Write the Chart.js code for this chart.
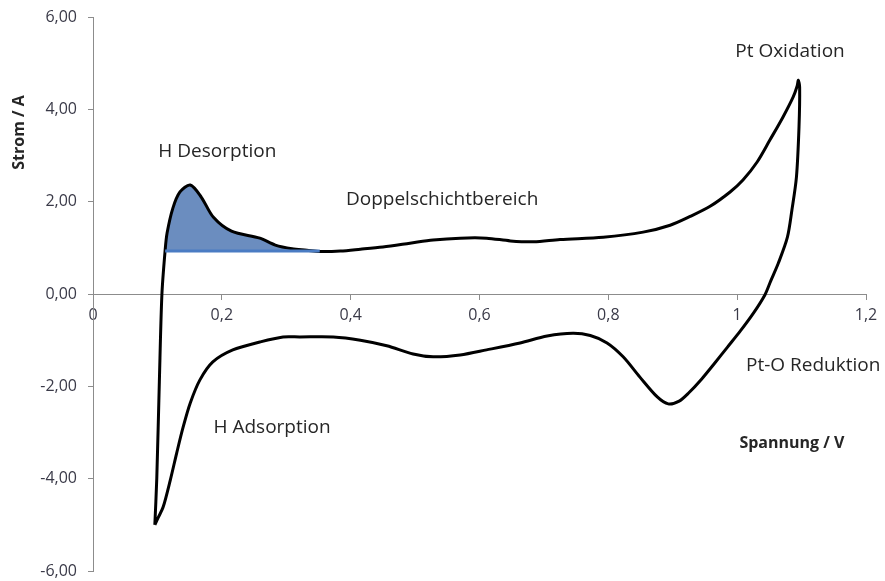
<!DOCTYPE html>
<html>
<head>
<meta charset="utf-8">
<script src="https://cdn.jsdelivr.net/npm/chart.js@4/dist/chart.umd.min.js"></script>
<style>
  html, body { margin: 0; padding: 0; background: #fff; }
  #wrap { width: 885px; height: 581px; }
</style>
</head>
<body>
<div id="wrap"><canvas id="cv" width="885" height="581"></canvas></div>
<script>
// Cyclic voltammogram loop (Spannung / V, Strom / A), in drawing order
const voltage = [
  0.096, 0.099, 0.103, 0.107, 0.112, 0.115, 0.124, 0.135, 0.151, 0.168, 0.187, 0.215,
  0.259, 0.283, 0.309, 0.332, 0.352, 0.384, 0.415, 0.450, 0.492, 0.528, 0.570, 0.611,
  0.648, 0.684, 0.725, 0.792, 0.854, 0.896, 0.927, 0.958, 0.989, 1.009, 1.031, 1.051,
  1.071, 1.087, 1.093, 1.095, 1.097, 1.096, 1.092, 1.085, 1.078, 1.064, 1.052, 1.043,
  1.025, 1.005, 0.985, 0.965, 0.945, 0.925, 0.910, 0.893, 0.876, 0.849, 0.823, 0.798, 0.772,
  0.745, 0.705, 0.663, 0.611, 0.570, 0.528, 0.497, 0.456, 0.415, 0.373, 0.321, 0.295,
  0.259, 0.217, 0.186, 0.166, 0.151, 0.140, 0.130, 0.120, 0.109, 0.101, 0.096
];
const current = [
  -5.00, -4.00, -1.90, 0.00, 0.95, 1.32, 1.86, 2.21, 2.36, 2.10, 1.66, 1.36,
  1.21, 1.06, 0.98, 0.95, 0.92, 0.93, 0.97, 1.02, 1.10, 1.17, 1.21, 1.21,
  1.15, 1.13, 1.18, 1.23, 1.34, 1.49, 1.68, 1.90, 2.21, 2.47, 2.86, 3.34,
  3.83, 4.27, 4.50, 4.63, 4.48, 3.62, 2.53, 1.82, 1.23, 0.67, 0.28, -0.02,
  -0.42, -0.80, -1.15, -1.50, -1.84, -2.14, -2.32, -2.38, -2.23, -1.80, -1.36, -1.06, -0.90,
  -0.85, -0.91, -1.06, -1.21, -1.32, -1.36, -1.30, -1.12, -1.00, -0.93, -0.93, -0.93,
  -1.04, -1.21, -1.47, -1.86, -2.36, -2.88, -3.44, -4.03, -4.61, -4.85, -5.00
];

// H desorption area (shaded above baseline)
const desorptionV = [0.112, 0.113, 0.115, 0.124, 0.135, 0.151, 0.168, 0.187, 0.215, 0.259, 0.283, 0.309, 0.332, 0.352];
const desorptionI = [0.93, 1.10, 1.32, 1.86, 2.21, 2.36, 2.10, 1.66, 1.36, 1.21, 1.06, 0.98, 0.95, 0.93];
const baselineV = [0.112, 0.352];
const baselineI = 0.93;

const xTicks = [0, 0.2, 0.4, 0.6, 0.8, 1, 1.2];
const yTicks = [-6, -4, -2, 0, 2, 4, 6];

// annotation labels: [text, x, y]
const labels = [
  ['H Desorption', 0.193, 3.08],
  ['Doppelschichtbereich', 0.542, 2.04],
  ['Pt Oxidation', 1.082, 5.24],
  ['Pt-O Reduktion', 1.118, -1.54],
  ['H Adsorption', 0.278, -2.90]
];
const xTitle = ['Spannung / V', 1.085, -3.23];
const yTitle = ['Strom / A', 3.5];

const zip = (xs, ys) => xs.map((x, i) => ({ x: x, y: Array.isArray(ys) ? ys[i] : ys }));
const comma = s => String(s).replace('.', ',');

const textPlugin = {
  id: 'texts',
  afterDatasetsDraw(chart) {
    const ctx = chart.ctx;
    const xs = chart.scales.x, ys = chart.scales.y;
    ctx.save();
    ctx.fillStyle = '#262626';
    ctx.textAlign = 'center';
    ctx.textBaseline = 'middle';
    ctx.font = '19px "Open Sans"';
    labels.forEach(l => {
      ctx.fillText(l[0], xs.getPixelForValue(l[1]), ys.getPixelForValue(l[2]));
    });
    ctx.font = 'bold 16px "Open Sans"';
    ctx.fillText(xTitle[0], xs.getPixelForValue(xTitle[1]), ys.getPixelForValue(xTitle[2]));
    ctx.translate(chart.chartArea.left - 74, ys.getPixelForValue(yTitle[1]));
    ctx.rotate(-Math.PI / 2);
    ctx.fillText(yTitle[0], 0, 0);
    ctx.restore();
  }
};

const axisGray = '#8c8c8c';
const tickColor = '#3a3a48';

new Chart(document.getElementById('cv'), {
  type: 'line',
  data: {
    datasets: [
      {
        label: 'Basislinie',
        data: zip(baselineV, baselineI),
        borderColor: '#4a7cc3',
        borderWidth: 3,
        pointRadius: 0,
        fill: false,
        order: 0
      },
      {
        label: 'CV',
        data: zip(voltage, current),
        borderColor: '#000',
        borderWidth: 3,
        pointRadius: 0,
        tension: 0.3,
        fill: false,
        order: 1
      },
      {
        label: 'H Desorption',
        data: zip(desorptionV, desorptionI),
        borderWidth: 0,
        borderColor: 'rgba(0,0,0,0)',
        backgroundColor: '#6b8dbf',
        pointRadius: 0,
        tension: 0.3,
        fill: { value: baselineI },
        order: 2
      }
    ]
  },
  options: {
    responsive: false,
    animation: false,
    layout: { padding: { left: 0, top: 17, right: 19, bottom: 10 } },
    plugins: {
      legend: { display: false },
      tooltip: { enabled: false }
    },
    scales: {
      x: {
        type: 'linear',
        position: { y: 0 },
        min: 0,
        max: 1.2,
        afterBuildTicks: s => { s.ticks = xTicks.map(v => ({ value: v })); },
        afterFit: s => { s.height = 0; s.paddingLeft = 0; s.paddingRight = 0; },
        ticks: {
          color: tickColor,
          font: { family: '"Open Sans"', size: 16 },
          padding: 7,
          callback: v => comma(Math.round(v * 10) / 10)
        },
        grid: { drawOnChartArea: false, tickLength: 5, color: axisGray },
        border: { color: axisGray }
      },
      y: {
        min: -6,
        max: 6,
        afterBuildTicks: s => { s.ticks = yTicks.map(v => ({ value: v })); },
        afterFit: s => { s.width = 93; s.paddingTop = 0; s.paddingBottom = 0; },
        ticks: {
          color: tickColor,
          font: { family: '"Open Sans"', size: 16 },
          padding: 11,
          callback: v => comma(v.toFixed(2))
        },
        grid: { drawOnChartArea: false, tickLength: 5, color: axisGray },
        border: { color: axisGray }
      }
    }
  },
  plugins: [textPlugin]
});
</script>
</body>
</html>
